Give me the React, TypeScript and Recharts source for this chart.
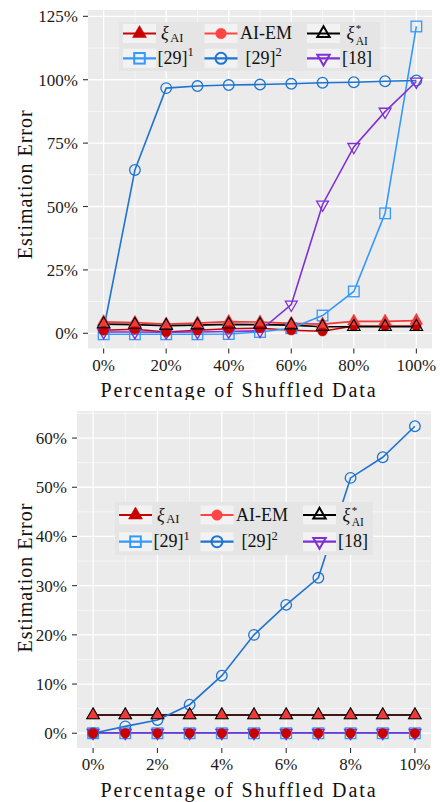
import React from "react";
import { LineChart, Line, XAxis, YAxis, CartesianGrid, Legend, Label } from "recharts";

// upper panel: share of shuffled data 0..100 %
const topShuffled = [0, 10, 20, 30, 40, 50, 60, 70, 80, 90, 100];
const topXiAI = [4.5, 4.2, 3.6, 4.0, 4.6, 4.4, 3.9, 3.6, 4.7, 4.7, 5.0];
const topAIEM = [1.2, 1.6, 0.5, 1.2, 1.8, 2.0, 1.2, 0.8, 2.9, 2.9, 2.9];
const topXiStar = [3.6, 3.4, 3.0, 3.2, 3.5, 3.4, 3.2, 2.6, 2.6, 2.6, 2.6];
const topRef29a = [-0.4, -0.4, -0.4, -0.4, -0.3, 0.5, 2.0, 7.0, 16.5, 47.3, 121];
const topRef29b = [1.5, 64.4, 96.7, 97.5, 97.9, 98.1, 98.4, 98.8, 99.0, 99.4, 99.7];
const topRef18 = [0.5, 0.5, 0.4, 0.5, 0.7, 1.0, 11.3, 50.8, 73.5, 87.4, 99.3];
const topXTicks = [0, 20, 40, 60, 80, 100];
const topXMinor = [10, 30, 50, 70, 90];
const topYTicks = [0, 25, 50, 75, 100, 125];
const topYMinor = [12.5, 37.5, 62.5, 87.5, 112.5];

// lower panel: share of shuffled data 0..10 %
const botShuffled = [0, 1, 2, 3, 4, 5, 6, 7, 8, 9, 10];
const botXiAI = [3.7, 3.7, 3.7, 3.7, 3.7, 3.7, 3.7, 3.7, 3.7, 3.7, 3.7];
const botAIEM = [0, 0, 0, 0, 0, 0, 0, 0, 0, 0, 0];
const botXiStar = [3.7, 3.7, 3.7, 3.7, 3.7, 3.7, 3.7, 3.7, 3.7, 3.7, 3.7];
const botRef29a = [0, 0, 0, 0, 0, 0, 0, 0, 0, 0, 0];
const botRef29b = [0, 1.4, 2.7, 5.8, 11.7, 20.0, 26.1, 31.6, 51.9, 56.1, 62.4];
const botRef18 = [0.1, 0.1, 0.1, 0.1, 0.1, 0.1, 0.1, 0.1, 0.1, 0.1, 0.1];
const botXTicks = [0, 2, 4, 6, 8, 10];
const botXMinor = [1, 3, 5, 7, 9];
const botYTicks = [0, 10, 20, 30, 40, 50, 60];
const botYMinor = [5, 15, 25, 35, 45, 55, 65];

const FONT = "'Liberation Serif', 'Times New Roman', serif";
const RED = "#F03A3A";
const DARK_RED = "#C80000";
const BLACK = "#000000";
const LIGHT_BLUE = "#3399FF";
const BLUE = "#1E74D0";
const PURPLE = "#7F2FD3";

function Marker({ shape, cx, cy, s, fill, stroke, sw }: any) {
  if (cx == null || cy == null) return <g />;
  if (shape === "circle")
    return <circle cx={cx} cy={cy} r={s} fill={fill} stroke={stroke} strokeWidth={sw} />;
  if (shape === "square")
    return (
      <rect x={cx - s} y={cy - s} width={2 * s} height={2 * s} fill={fill} stroke={stroke} strokeWidth={sw} />
    );
  const d = shape === "triUp" ? -1 : 1;
  const pts = [
    [cx, cy + d * 1.555 * s],
    [cx + 1.347 * s, cy - d * 0.778 * s],
    [cx - 1.347 * s, cy - d * 0.778 * s],
  ];
  return (
    <polygon
      points={pts.map((p) => p.join(",")).join(" ")}
      fill={fill}
      stroke={stroke}
      strokeWidth={sw}
      strokeLinejoin="miter"
    />
  );
}

const lineLayers = [
  { key: "xiAI", color: RED },
  { key: "aiEM", color: DARK_RED },
  { key: "xiStar", color: BLACK },
  { key: "ref29a", color: LIGHT_BLUE },
  { key: "ref29b", color: BLUE },
  { key: "ref18", color: PURPLE },
];

const pointLayers = [
  { key: "ref29a", shape: "square", fill: "none", stroke: LIGHT_BLUE, s: 5.3, sw: 1.3 },
  { key: "ref29b", shape: "circle", fill: "none", stroke: BLUE, s: 5.3, sw: 1.3 },
  { key: "ref18", shape: "triDown", fill: "none", stroke: PURPLE, s: 4.4, sw: 1.3 },
  { key: "aiEM", shape: "circle", fill: DARK_RED, stroke: DARK_RED, s: 4.8, sw: 0.5 },
  { key: "xiAI", shape: "triUp", fill: RED, stroke: RED, s: 4.7, sw: 0.5 },
  { key: "xiStar", shape: "triUp", fill: "none", stroke: BLACK, s: 4.7, sw: 1.1 },
];

// legend keys, as they appear in the legend box
const legendKeys = [
  [
    { label: "xi", color: DARK_RED, shape: "triUp", fill: DARK_RED, s: 5.2 },
    { label: "AI-EM", color: "#FF4444", shape: "circle", fill: "#FF4444", s: 5.3 },
    { label: "xiStar", color: BLACK, shape: "triUp", fill: "none", s: 4.6 },
  ],
  [
    { label: "[29]|1", color: LIGHT_BLUE, shape: "square", fill: "none", s: 5.3 },
    { label: "[29]|2", color: BLUE, shape: "circle", fill: "none", s: 5.5 },
    { label: "[18]", color: PURPLE, shape: "triDown", fill: "none", s: 4.6 },
  ],
];

function MathText({ label, x, y }: any) {
  const base = { fontFamily: FONT, fill: "#111" };
  if (label === "xi")
    return (
      <text x={x} y={y} fontSize={18} {...base}>
        <tspan fontStyle="italic">ξ</tspan>
        <tspan dx={1.5} dy={2.5} fontSize={12.5}>AI</tspan>
      </text>
    );
  if (label === "xiStar")
    return (
      <text x={x} y={y} fontSize={18} {...base}>
        <tspan fontStyle="italic">ξ</tspan>
        <tspan dx={1.5} dy={-7} fontSize={11}>*</tspan>
        <tspan dx={-5.5} dy={12.8} fontSize={11.5}>AI</tspan>
      </text>
    );
  if (label.includes("|")) {
    const [main, sup] = label.split("|");
    return (
      <text x={x} y={y} fontSize={18} {...base}>
        {main}
        <tspan dy={-7.5} fontSize={12.5}>{sup}</tspan>
      </text>
    );
  }
  return <text x={x} y={y} fontSize={18} {...base}>{label}</text>;
}

function LegendBox({ lg }: any) {
  const keyX = [20.5, 102, 204.5];
  const labelX = [
    [42, 121, 227.5],
    [38.5, 126.5, 223],
  ];
  return (
    <svg width={lg.w} height={lg.h} style={{ display: "block" }}>
      <rect x={0} y={0} width={lg.w} height={lg.h} fill="#E5E5E5" />
      {legendKeys.map((row, r) =>
        row.map((k, c) => {
          const cx = keyX[c];
          const cy = lg.rows[r];
          return (
            <g key={`${r}-${c}`}>
              <rect x={cx - 16.5} y={cy - 9.5} width={33} height={19} fill="#F2F2F2" />
              <line x1={cx - 16.5} x2={cx + 16.5} y1={cy} y2={cy} stroke={k.color} strokeWidth={2.2} />
              <Marker
                shape={k.shape}
                cx={cx}
                cy={cy}
                s={k.s}
                fill={k.fill}
                stroke={k.color}
                sw={k.fill === "none" ? 2 : 0.5}
              />
              <MathText label={k.label} x={labelX[r][c]} y={cy + 5.5} />
            </g>
          );
        })
      )}
    </svg>
  );
}

const pct = (v: number) => `${v}%`;

function ErrorChart({ cfg }: any) {
  const rows = cfg.x.map((x: number, i: number) => ({
    x,
    xiAI: cfg.xiAI[i],
    aiEM: cfg.aiEM[i],
    xiStar: cfg.xiStar[i],
    ref29a: cfg.ref29a[i],
    ref29b: cfg.ref29b[i],
    ref18: cfg.ref18[i],
  }));
  const tickStyle = { fill: "#1a1a1a", fontSize: 17, fontFamily: FONT };
  return (
    <LineChart
      width={440}
      height={cfg.height}
      data={rows}
      margin={{ top: cfg.top, right: cfg.right, bottom: 0, left: 0 }}
    >
      <CartesianGrid
        fill="#EBEBEB"
        stroke="#FFFFFF"
        strokeWidth={0.6}
        verticalValues={cfg.xMinor}
        horizontalValues={cfg.yMinor}
      />
      <CartesianGrid
        fill="none"
        stroke="#FFFFFF"
        strokeWidth={1.3}
        verticalValues={cfg.xTicks}
        horizontalValues={cfg.yTicks}
      />
      <XAxis
        type="number"
        dataKey="x"
        domain={cfg.xDomain}
        ticks={cfg.xTicks}
        interval={0}
        allowDataOverflow
        axisLine={false}
        tickSize={5}
        tickMargin={5}
        tickLine={{ stroke: "#333", strokeWidth: 1.1 }}
        tick={tickStyle}
        tickFormatter={pct}
        height={cfg.xAxisH}
      >
        <Label
          content={(p: any) => {
            const vb = p.viewBox;
            return (
              <text
                x={cfg.xTitleX}
                y={vb.y + 48.5}
                textAnchor="middle"
                fontSize={20}
                letterSpacing={1.9}
                fontFamily={FONT}
                fill="#111"
              >
                Percentage of Shuffled Data
              </text>
            );
          }}
        />
      </XAxis>
      <YAxis
        type="number"
        domain={cfg.yDomain}
        ticks={cfg.yTicks}
        interval={0}
        allowDataOverflow
        axisLine={false}
        tickSize={5}
        tickMargin={5}
        tickLine={{ stroke: "#333", strokeWidth: 1.1 }}
        tick={tickStyle}
        tickFormatter={pct}
        width={cfg.yAxisW}
      >
        <Label
          content={(p: any) => {
            const vb = p.viewBox;
            const cy = vb.y + vb.height / 2 + cfg.yTitleShift;
            return (
              <text
                transform={`translate(31.5, ${cy}) rotate(-90)`}
                textAnchor="middle"
                fontSize={20}
                letterSpacing={1}
                fontFamily={FONT}
                fill="#111"
              >
                Estimation Error
              </text>
            );
          }}
        />
      </YAxis>
      <Legend
        layout="vertical"
        align="center"
        verticalAlign="middle"
        wrapperStyle={{ left: cfg.legend.left, top: cfg.legend.top, width: cfg.legend.w, height: cfg.legend.h }}
        content={() => <LegendBox lg={cfg.legend} />}
      />
      {lineLayers.map((l) => (
        <Line
          key={`line-${l.key}`}
          type="linear"
          dataKey={l.key}
          stroke={l.color}
          strokeWidth={1.6}
          dot={false}
          activeDot={false}
          legendType="none"
          isAnimationActive={false}
        />
      ))}
      {pointLayers.map((m) => (
        <Line
          key={`pts-${m.key}`}
          type="linear"
          dataKey={m.key}
          stroke="none"
          strokeWidth={0}
          activeDot={false}
          legendType="none"
          isAnimationActive={false}
          dot={(p: any) => (
            <Marker
              key={`${m.key}-${p.index}`}
              shape={m.shape}
              cx={p.cx}
              cy={p.cy}
              s={m.s}
              fill={m.fill}
              stroke={m.stroke}
              sw={m.sw}
            />
          )}
        />
      ))}
    </LineChart>
  );
}

const topCfg = {
  height: 400,
  top: 10,
  right: 8,
  yAxisW: 88,
  xAxisH: 51.5,
  xDomain: [-5, 105],
  yDomain: [-6, 127.5],
  xTicks: topXTicks,
  xMinor: topXMinor,
  yTicks: topYTicks,
  yMinor: topYMinor,
  xTitleX: 239,
  yTitleShift: 5,
  legend: { left: 119, top: 22, w: 261, h: 49, rows: [11.5, 36.3] },
  x: topShuffled,
  xiAI: topXiAI,
  aiEM: topAIEM,
  xiStar: topXiStar,
  ref29a: topRef29a,
  ref29b: topRef29b,
  ref18: topRef18,
};

const botCfg = {
  height: 402,
  top: 11,
  right: 9,
  yAxisW: 77,
  xAxisH: 54,
  xDomain: [-0.5, 10.5],
  yDomain: [-3, 65.5],
  xTicks: botXTicks,
  xMinor: botXMinor,
  yTicks: botYTicks,
  yMinor: botYMinor,
  xTitleX: 239,
  yTitleShift: -2,
  legend: { left: 115, top: 102, w: 258, h: 53, rows: [13, 39.7] },
  x: botShuffled,
  xiAI: botXiAI,
  aiEM: botAIEM,
  xiStar: botXiStar,
  ref29a: botRef29a,
  ref29b: botRef29b,
  ref18: botRef18,
};

export default function App() {
  return (
    <div style={{ position: "absolute", left: 0, top: 0, width: 440, height: 802, background: "#fff" }}>
      <div style={{ position: "relative", width: 440, height: 400 }}>
        <ErrorChart cfg={topCfg} />
      </div>
      <div style={{ position: "relative", width: 440, height: 402 }}>
        <ErrorChart cfg={botCfg} />
      </div>
    </div>
  );
}
